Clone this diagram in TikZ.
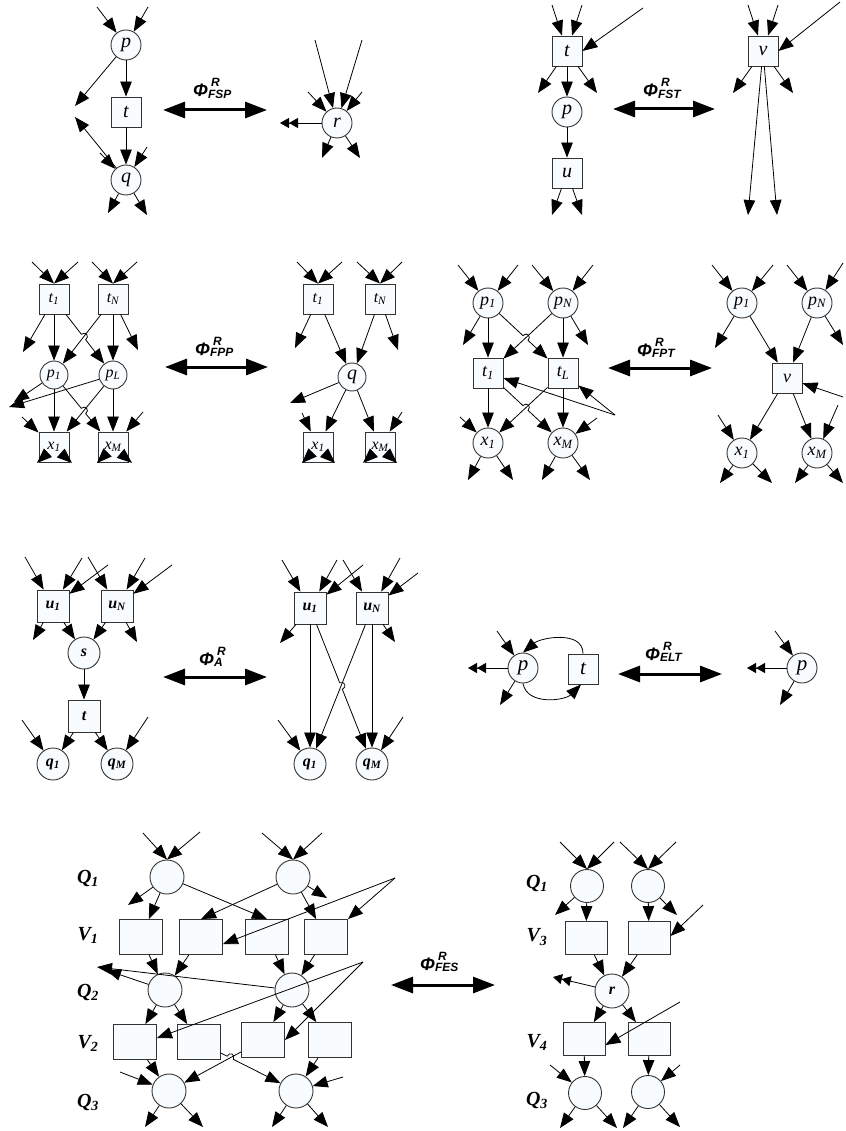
\documentclass[tikz,border=0pt]{standalone}
\usepackage{fontspec}
\setmainfont{Liberation Serif}
\setsansfont{Liberation Sans}
\usepackage{tikz}
\usetikzlibrary{arrows.meta, calc, shapes.geometric}
\definecolor{nfill}{RGB}{249,252,255}
\tikzstyle{place} = [circle, draw=black!80, line width=0.9pt, fill=nfill, minimum size=30pt, inner sep=0pt]
\tikzstyle{trans} = [rectangle, draw=black!80, line width=0.9pt, fill=nfill, minimum size=30pt, inner sep=0pt]
\tikzstyle{flow} = [line width=0.8pt, -{Triangle[length=15pt,width=11.5pt]}]
\tikzstyle{sink} = [line width=0.8pt, -{Triangle[length=9pt,width=10pt]Triangle[length=9pt,width=10pt]}]
\tikzstyle{rulearrow} = [line width=3pt, {Triangle[length=22pt,width=16pt]}-{Triangle[length=22pt,width=16pt]}]
\tikzstyle{rulelabel} = [anchor=base west, inner sep=0pt]
\tikzstyle{lbig} = [font=\fontsize{20pt}{20pt}\selectfont\itshape]
\tikzstyle{lmid} = [font=\fontsize{16pt}{16pt}\selectfont\itshape]
\tikzstyle{lfpt} = [font=\fontsize{18pt}{18pt}\selectfont\itshape]
\tikzstyle{lelt} = [font=\fontsize{21pt}{21pt}\selectfont\itshape]
\tikzstyle{lbold} = [font=\fontsize{16pt}{16pt}\selectfont\bfseries\itshape]
\tikzstyle{lfes} = [font=\fontsize{20pt}{20pt}\selectfont\bfseries\itshape]
\tikzstyle{fplace} = [place, minimum size=34pt]
\tikzstyle{fbox} = [trans, minimum width=43pt, minimum height=35pt]
% rule name: Phi with R above and the rule below
\newcommand{\phirule}[1]{{\sffamily\bfseries\itshape\fontsize{18pt}{18pt}\selectfont Φ\rlap{\hspace{3pt}\raisebox{10pt}{\fontsize{12pt}{12pt}\selectfont R}}\raisebox{-1.5pt}{\fontsize{12pt}{12pt}\selectfont #1}}}
% edge #1 -> #2 with a small hop where it crosses #3 -- #4
\newcommand{\hopedge}[4]{%
  \coordinate (hx) at (intersection of #1--#2 and #3--#4);
  \draw[flow] (#1) -- ($(hx)!3.5pt!(#1)$) to[bend left=90,looseness=2] ($(hx)!3.5pt!(#2)$) -- (#2);}

\begin{document}
\begin{tikzpicture}[x=1pt,y=1pt]
\useasboundingbox (0,0) rectangle (845,-1131);

%% ---------- FSP ----------
\node[place,lbig] (sp) at (126,-45) {p};
\node[trans,lbig] (st) at (126,-112) {t};
\node[place,lbig] (sq) at (126,-180) {q};
\coordinate (sp1) at (97,-7); \coordinate (sp2) at (148,-7);
\coordinate (sp3) at (75,-106); \coordinate (sp4) at (75,-117);
\coordinate (sp5) at (100,-153); \coordinate (sp6) at (147,-147);
\coordinate (sp7) at (108,-213); \coordinate (sp8) at (147,-215);
\draw[flow] (sp1) -- (sp); \draw[flow] (sp2) -- (sp);
\draw[flow] (sp) -- (st); \draw[flow] (st) -- (sq);
\draw[flow] (sp) -- (sp3); \draw[flow] (sq) -- (sp4);
\draw[flow] (sp5) -- (sq); \draw[flow] (sp6) -- (sq);
\draw[flow] (sq) -- (sp7); \draw[flow] (sq) -- (sp8);

\coordinate (ra1) at (163,-110); \coordinate (ra2) at (267,-110);
\draw[rulearrow] (ra1) -- (ra2);
\node[rulelabel] (rfsp) at (193,-97) {\phirule{FSP}};

\node[place,lbig] (sr) at (337,-123) {r};
\coordinate (sr1) at (315,-40); \coordinate (sr2) at (362,-40);
\coordinate (sr3) at (308,-92); \coordinate (sr4) at (362,-92);
\coordinate (sr5) at (280,-123);
\coordinate (sr6) at (322,-158); \coordinate (sr7) at (360,-158);
\draw[flow] (sr1) -- (sr); \draw[flow] (sr2) -- (sr);
\draw[flow] (sr3) -- (sr); \draw[flow] (sr4) -- (sr);
\draw[sink] (sr) -- (sr5);
\draw[flow] (sr) -- (sr6); \draw[flow] (sr) -- (sr7);

%% ---------- FST ----------
\node[trans,lbig] (ft) at (567,-51) {t};
\node[place,lbig] (fp) at (567,-112) {p};
\node[trans,lbig] (fu) at (567,-173) {u};
\coordinate (ft1) at (552,-5); \coordinate (ft2) at (582,-5);
\coordinate (ft3) at (643,-8);
\coordinate (ft4) at (538,-93); \coordinate (ft5) at (597,-93);
\coordinate (ft6) at (552,-215); \coordinate (ft7) at (582,-215);
\draw[flow] (ft1) -- (ft); \draw[flow] (ft2) -- (ft);
\draw[flow] (ft3) -- (ft.east);
\draw[flow] (ft) -- (ft4); \draw[flow] (ft) -- (fp); \draw[flow] (ft) -- (ft5);
\draw[flow] (fp) -- (fu);
\draw[flow] (fu) -- (ft6); \draw[flow] (fu) -- (ft7);

\coordinate (ra3) at (613,-109); \coordinate (ra4) at (715,-109);
\draw[rulearrow] (ra3) -- (ra4);
\node[rulelabel] (rfst) at (643,-97) {\phirule{FST}};

\node[trans,lbig] (fv) at (763,-51) {v};
\coordinate (fv1) at (748,-5); \coordinate (fv2) at (778,-5);
\coordinate (fv3) at (840,-2);
\coordinate (fv4) at (733,-93); \coordinate (fv5) at (793,-93);
\coordinate (fv6) at (748,-215); \coordinate (fv7) at (777,-215);
\draw[flow] (fv1) -- (fv); \draw[flow] (fv2) -- (fv);
\draw[flow] (fv3) -- (fv.east);
\draw[flow] (fv) -- (fv4); \draw[flow] (fv) -- (fv5);
\draw[flow] (fv) -- (fv6); \draw[flow] (fv) -- (fv7);

%% ---------- FPP ----------
\node[trans,lmid] (pt1) at (54,-299) {t\textsubscript{1}};
\node[trans,lmid] (ptn) at (113,-299) {t\textsubscript{N}};
\node[place,lmid,minimum size=28pt] (pp1) at (54,-375) {p\textsubscript{1}};
\node[place,lmid,minimum size=28pt] (ppl) at (113,-375) {p\textsubscript{L}};
\node[trans,lmid] (px1) at (54,-447) {x\textsubscript{1}};
\node[trans,lmid] (pxm) at (113,-447) {x\textsubscript{M}};
\coordinate (pa1) at (32,-262); \coordinate (pa2) at (78,-262);
\coordinate (pa3) at (92,-262); \coordinate (pa4) at (137,-262);
\coordinate (pa5) at (23,-352); \coordinate (pa6) at (138,-350);
\coordinate (pa7) at (14,-402); \coordinate (pa8) at (9,-407);
\coordinate (pa9) at (22,-417); \coordinate (pa10) at (143,-412);
\coordinate (pa11) at (37,-463); \coordinate (pa12) at (72,-463);
\coordinate (pa13) at (97,-463); \coordinate (pa14) at (132,-463);
\draw[flow] (pa1) -- (pt1.north); \draw[flow] (pa2) -- (pt1.north);
\draw[flow] (pa3) -- (ptn.north); \draw[flow] (pa4) -- (ptn.north);
\draw[flow] (pt1) -- (pa5); \draw[flow] (pt1) -- (pp1);
\hopedge{pt1}{ppl}{ptn}{pp1}
\draw[flow] (ptn) -- (pp1); \draw[flow] (ptn) -- (ppl); \draw[flow] (ptn) -- (pa6);
\draw[flow] (pp1) -- (pa7); \draw[flow] (pp1) -- (px1);
\hopedge{pp1}{pxm}{ppl}{px1}
\draw[flow] (ppl) -- (pa8); \draw[flow] (ppl) -- (px1); \draw[flow] (ppl) -- (pxm);
\draw[flow] (pa9) -- (px1); \draw[flow] (pa10) -- (pxm);
\draw[flow] (px1) -- (pa11); \draw[flow] (px1) -- (pa12);
\draw[flow] (pxm) -- (pa13); \draw[flow] (pxm) -- (pa14);

\coordinate (ra5) at (165,-367); \coordinate (ra6) at (268,-367);
\draw[rulearrow] (ra5) -- (ra6);
\node[rulelabel] (rfpp) at (195,-355) {\phirule{FPP}};

\node[trans,lmid] (qt1) at (318,-299) {t\textsubscript{1}};
\node[trans,lmid] (qtn) at (380,-299) {t\textsubscript{N}};
\node[place,lbig,minimum size=28pt] (qq) at (352,-377) {q};
\node[trans,lmid] (qx1) at (318,-447) {x\textsubscript{1}};
\node[trans,lmid] (qxm) at (380,-447) {x\textsubscript{M}};
\coordinate (qa1) at (297,-262); \coordinate (qa2) at (342,-262);
\coordinate (qa3) at (357,-262); \coordinate (qa4) at (402,-262);
\coordinate (qa5) at (295,-348); \coordinate (qa6) at (398,-350);
\coordinate (qa7) at (290,-403);
\coordinate (qa8) at (302,-413); \coordinate (qa9) at (402,-412);
\coordinate (qa10) at (302,-463); \coordinate (qa11) at (335,-463);
\coordinate (qa12) at (363,-463); \coordinate (qa13) at (397,-463);
\draw[flow] (qa1) -- (qt1.north); \draw[flow] (qa2) -- (qt1.north);
\draw[flow] (qa3) -- (qtn.north); \draw[flow] (qa4) -- (qtn.north);
\draw[flow] (qt1) -- (qa5); \draw[flow] (qt1) -- (qq);
\draw[flow] (qtn) -- (qq); \draw[flow] (qtn) -- (qa6);
\draw[flow] (qq) -- (qa7); \draw[flow] (qq) -- (qx1); \draw[flow] (qq) -- (qxm);
\draw[flow] (qa8) -- (qx1); \draw[flow] (qa9) -- (qxm);
\draw[flow] (qx1) -- (qa10); \draw[flow] (qx1) -- (qa11);
\draw[flow] (qxm) -- (qa12); \draw[flow] (qxm) -- (qa13);

%% ---------- FPT ----------
\node[place,lfpt] (tp1) at (488,-303) {p\textsubscript{1}};
\node[place,lfpt] (tpn) at (563,-303) {p\textsubscript{N}};
\node[trans,lfpt] (tt1) at (488,-373) {t\textsubscript{1}};
\node[trans,lfpt] (ttl) at (563,-373) {t\textsubscript{L}};
\node[place,lfpt] (tx1) at (488,-443) {x\textsubscript{1}};
\node[place,lfpt] (txm) at (563,-443) {x\textsubscript{M}};
\coordinate (ta1) at (458,-265); \coordinate (ta2) at (518,-265);
\coordinate (ta3) at (532,-265); \coordinate (ta4) at (593,-265);
\coordinate (ta5) at (463,-345); \coordinate (ta6) at (588,-345);
\coordinate (ta7) at (615,-415);
\coordinate (ta8) at (460,-417); \coordinate (ta9) at (597,-418);
\coordinate (ta10) at (468,-480); \coordinate (ta11) at (513,-480);
\coordinate (ta12) at (542,-480); \coordinate (ta13) at (590,-480);
\draw[flow] (ta1) -- (tp1); \draw[flow] (ta2) -- (tp1);
\draw[flow] (ta3) -- (tpn); \draw[flow] (ta4) -- (tpn);
\draw[flow] (tp1) -- (ta5); \draw[flow] (tp1) -- (tt1);
\hopedge{tp1}{ttl}{tpn}{tt1}
\draw[flow] (tpn) -- (tt1); \draw[flow] (tpn) -- (ttl); \draw[flow] (tpn) -- (ta6);
\draw[flow] (tt1) -- (tx1);
\hopedge{tt1}{txm}{ttl}{tx1}
\draw[flow] (ttl) -- (tx1); \draw[flow] (ttl) -- (txm);
\draw[flow] (ta7) -- (tt1); \draw[flow] (ta7) -- (ttl);
\draw[flow] (ta8) -- (tx1); \draw[flow] (ta9) -- (txm);
\draw[flow] (tx1) -- (ta10); \draw[flow] (tx1) -- (ta11);
\draw[flow] (txm) -- (ta12); \draw[flow] (txm) -- (ta13);

\coordinate (ra7) at (608,-368); \coordinate (ra8) at (712,-368);
\draw[rulearrow] (ra7) -- (ra8);
\node[rulelabel] (rfpt) at (637,-356) {\phirule{FPT}};

\node[place,lfpt] (vp1) at (742,-303) {p\textsubscript{1}};
\node[place,lfpt] (vpn) at (817,-303) {p\textsubscript{N}};
\node[trans,lfpt] (vv) at (787,-378) {v};
\node[place,lfpt] (vx1) at (742,-453) {x\textsubscript{1}};
\node[place,lfpt] (vxm) at (817,-453) {x\textsubscript{M}};
\coordinate (va1) at (712,-265); \coordinate (va2) at (773,-265);
\coordinate (va3) at (787,-265); \coordinate (va4) at (843,-263);
\coordinate (va5) at (715,-348); \coordinate (va6) at (843,-345);
\coordinate (va7) at (843,-397);
\coordinate (va8) at (718,-415); \coordinate (va9) at (838,-405);
\coordinate (va10) at (720,-483); \coordinate (va11) at (772,-483);
\coordinate (va12) at (795,-483); \coordinate (va13) at (843,-483);
\draw[flow] (va1) -- (vp1); \draw[flow] (va2) -- (vp1);
\draw[flow] (va3) -- (vpn); \draw[flow] (va4) -- (vpn);
\draw[flow] (vp1) -- (va5); \draw[flow] (vp1) -- (vv);
\draw[flow] (vpn) -- (vv); \draw[flow] (vpn) -- (va6);
\draw[flow] (va7) -- (vv);
\draw[flow] (vv) -- (vx1); \draw[flow] (vv) -- (vxm);
\draw[flow] (va8) -- (vx1); \draw[flow] (va9) -- (vxm);
\draw[flow] (vx1) -- (va10); \draw[flow] (vx1) -- (va11);
\draw[flow] (vxm) -- (va12); \draw[flow] (vxm) -- (va13);

%% ---------- A ----------
\node[trans,lbold,minimum size=32pt] (au1) at (53,-606) {u\textsubscript{1}};
\node[trans,lbold,minimum size=32pt] (aun) at (117,-606) {u\textsubscript{N}};
\node[place,lbold,minimum size=32pt] (as) at (84,-653) {s};
\node[trans,lbold,minimum size=32pt] (at) at (84,-716) {t};
\node[place,lbold,minimum size=32pt] (aq1) at (53,-764) {q\textsubscript{1}};
\node[place,lbold,minimum size=32pt] (aqm) at (117,-764) {q\textsubscript{M}};
\coordinate (aa1) at (25,-557); \coordinate (aa2) at (82,-558); \coordinate (aa3) at (108,-565);
\coordinate (aa4) at (88,-557); \coordinate (aa5) at (145,-558); \coordinate (aa6) at (172,-565);
\coordinate (aa7) at (33,-640); \coordinate (aa8) at (137,-642);
\coordinate (aa9) at (22,-720); \coordinate (aa10) at (148,-717);
\draw[flow] (aa1) -- (au1); \draw[flow] (aa2) -- (au1); \draw[flow] (aa3) -- (au1);
\draw[flow] (aa4) -- (aun); \draw[flow] (aa5) -- (aun); \draw[flow] (aa6) -- (aun);
\draw[flow] (au1) -- (aa7); \draw[flow] (au1) -- (as);
\draw[flow] (aun) -- (as); \draw[flow] (aun) -- (aa8);
\draw[flow] (as) -- (at);
\draw[flow] (at) -- (aq1); \draw[flow] (at) -- (aqm);
\draw[flow] (aa9) -- (aq1); \draw[flow] (aa10) -- (aqm);

\coordinate (ra9) at (163,-677); \coordinate (ra10) at (267,-677);
\draw[rulearrow] (ra9) -- (ra10);
\node[rulelabel] (ra) at (199,-665) {\phirule{A}};

\node[trans,lbold,minimum size=32pt] (bu1) at (310,-608) {u\textsubscript{1}};
\node[trans,lbold,minimum size=32pt] (bun) at (372,-608) {u\textsubscript{N}};
\node[place,lbold,minimum size=32pt] (bq1) at (310,-764) {q\textsubscript{1}};
\node[place,lbold,minimum size=32pt] (bqm) at (372,-764) {q\textsubscript{M}};
\coordinate (ba1) at (282,-560); \coordinate (ba2) at (337,-560); \coordinate (ba3) at (363,-565);
\coordinate (ba4) at (343,-560); \coordinate (ba5) at (400,-558); \coordinate (ba6) at (418,-573);
\coordinate (ba7) at (280,-643); \coordinate (ba8) at (395,-642);
\coordinate (ba9) at (278,-720); \coordinate (ba10) at (403,-717);
\draw[flow] (ba1) -- (bu1); \draw[flow] (ba2) -- (bu1); \draw[flow] (ba3) -- (bu1);
\draw[flow] (ba4) -- (bun); \draw[flow] (ba5) -- (bun); \draw[flow] (ba6) -- (bun);
\draw[flow] (bu1) -- (ba7); \draw[flow] (bu1) -- (bq1);
\hopedge{bu1}{bqm}{bun}{bq1}
\draw[flow] (bun) -- (bq1); \draw[flow] (bun) -- (bqm); \draw[flow] (bun) -- (ba8);
\draw[flow] (ba9) -- (bq1); \draw[flow] (ba10) -- (bqm);

%% ---------- ELT ----------
\node[place,lelt] (ep) at (523,-668) {p};
\node[trans,lelt] (et) at (583,-669) {t};
\coordinate (ea1) at (468,-668); \coordinate (ea2) at (497,-631); \coordinate (ea3) at (500,-705);
\draw[sink] (ep) -- (ea1);
\draw[flow] (ea2) -- (ep); \draw[flow] (ep) -- (ea3);
\draw[flow] (et.north) to[out=90,in=40] (ep.north);
\draw[flow] (ep.south) to[out=-80,in=-135] ([xshift=-2pt]et.south);

\coordinate (ra11) at (618,-674); \coordinate (ra12) at (722,-674);
\draw[rulearrow] (ra11) -- (ra12);
\node[rulelabel] (relt) at (645,-660) {\phirule{ELT}};

\node[place,lelt] (eq) at (802,-668) {p};
\coordinate (ea4) at (747,-668); \coordinate (ea5) at (775,-631); \coordinate (ea6) at (780,-705);
\draw[sink] (eq) -- (ea4);
\draw[flow] (ea5) -- (eq); \draw[flow] (eq) -- (ea6);

%% ---------- FES ----------
\node[lfes] (gq1) at (88,-878) {Q\textsubscript{1}};
\node[lfes] (gv1) at (88,-935) {V\textsubscript{1}};
\node[lfes] (gq2) at (88,-992) {Q\textsubscript{2}};
\node[lfes] (gv2) at (88,-1043) {V\textsubscript{2}};
\node[lfes] (gq3) at (88,-1102) {Q\textsubscript{3}};
\node[fplace] (ga1) at (167,-877) {};
\node[fplace] (ga2) at (293,-877) {};
\node[fbox] (gb1) at (141,-937) {};
\node[fbox] (gb2) at (201,-937) {};
\node[fbox] (gb3) at (267,-937) {};
\node[fbox] (gb4) at (326,-937) {};
\node[fplace] (gc1) at (165,-990) {};
\node[fplace] (gc2) at (292,-990) {};
\node[fbox] (gd1) at (135,-1042) {};
\node[fbox] (gd2) at (199,-1042) {};
\node[fbox] (gd3) at (263,-1040) {};
\node[fbox] (gd4) at (330,-1040) {};
\node[fplace] (ge1) at (169,-1091) {};
\node[fplace] (ge2) at (296,-1091) {};
\coordinate (g1) at (143,-833); \coordinate (g2) at (200,-832);
\coordinate (g3) at (262,-833); \coordinate (g4) at (322,-833);
\coordinate (g5) at (128,-905); \coordinate (g6) at (327,-898);
\coordinate (g7) at (395,-878);
\coordinate (g8) at (106,-970); \coordinate (g9) at (97,-967);
\coordinate (g10) at (363,-962);
\coordinate (g11) at (120,-1072); \coordinate (g12) at (343,-1077);
\coordinate (g13) at (145,-1127); \coordinate (g14) at (203,-1127);
\coordinate (g15) at (272,-1127); \coordinate (g16) at (328,-1127);
\draw[flow] (g1) -- (ga1.north); \draw[flow] (g2) -- (ga1.north);
\draw[flow] (g3) -- (ga2.north); \draw[flow] (g4) -- (ga2.north);
\draw[flow] (ga1) -- (g5); \draw[flow] (ga1) -- (gb1); \draw[flow] (ga1) -- (gb3.north);
\draw[flow] (ga2) -- (gb2.north); \draw[flow] (ga2) -- (gb4); \draw[flow] (ga2) -- (g6);
\draw[flow] (g7) -- ([yshift=-7pt]gb2.east); \draw[flow] (g7) -- (gb4.north east);
\draw[flow] (gb1) -- (gc1); \draw[flow] (gb2) -- (gc1);
\draw[flow] (gb3) -- (gc2); \draw[flow] (gb4) -- (gc2);
\draw[flow] (gc1) -- (g8); \draw[flow] (gc2) -- (g9);
\draw[flow] (gc1) -- (gd1); \draw[flow] (gc1) -- (gd2);
\draw[flow] (gc2) -- (gd3); \draw[flow] (gc2) -- (gd4);
\draw[flow] (g10) -- ([yshift=4pt]gd1.east); \draw[flow] (g10) -- (gd3.east);
\draw[flow] (gd1) -- (ge1);
\hopedge{gd2}{ge2}{gd3}{ge1}
\draw[flow] (gd3) -- (ge1); \draw[flow] (gd4) -- (ge2);
\draw[flow] (g11) -- (ge1); \draw[flow] (g12) -- (ge2);
\draw[flow] (ge1) -- (g13); \draw[flow] (ge1) -- (g14);
\draw[flow] (ge2) -- (g15); \draw[flow] (ge2) -- (g16);

\coordinate (ra13) at (391,-985); \coordinate (ra14) at (495,-985);
\draw[rulearrow] (ra13) -- (ra14);
\node[rulelabel] (rfes) at (420,-970) {\phirule{FES}};

\node[lfes] (hq1) at (537,-883) {Q\textsubscript{1}};
\node[lfes] (hv3) at (537,-937) {V\textsubscript{3}};
\node[lfes] (hv4) at (537,-1042) {V\textsubscript{4}};
\node[lfes] (hq3) at (537,-1100) {Q\textsubscript{3}};
\node[fplace,minimum size=33pt] (ha1) at (587,-886) {};
\node[fplace,minimum size=33pt] (ha2) at (648,-886) {};
\node[fbox,minimum width=42pt,minimum height=33pt] (hb1) at (586,-938) {};
\node[fbox,minimum width=42pt,minimum height=33pt] (hb2) at (649,-938) {};
\node[fplace,lbold] (hr) at (612,-991) {r};
\node[fbox,minimum width=42pt,minimum height=33pt] (hd1) at (584,-1039) {};
\node[fbox,minimum width=42pt,minimum height=33pt] (hd2) at (649,-1039) {};
\node[fplace,minimum size=33pt] (he1) at (585,-1093) {};
\node[fplace,minimum size=33pt] (he2) at (648,-1092) {};
\coordinate (h1) at (560,-842); \coordinate (h2) at (614,-842);
\coordinate (h3) at (620,-842); \coordinate (h4) at (676,-842);
\coordinate (h5) at (555,-915); \coordinate (h6) at (677,-915);
\coordinate (h7) at (703,-905); \coordinate (h8) at (553,-977);
\coordinate (h9) at (680,-1002);
\coordinate (h10) at (550,-1065); \coordinate (h11) at (680,-1065);
\coordinate (h12) at (560,-1128); \coordinate (h13) at (617,-1128);
\coordinate (h14) at (623,-1128); \coordinate (h15) at (680,-1127);
\draw[flow] (h1) -- (ha1.north); \draw[flow] (h2) -- (ha1.north);
\draw[flow] (h3) -- (ha2.north); \draw[flow] (h4) -- (ha2.north);
\draw[flow] (ha1) -- (h5); \draw[flow] (ha1) -- (hb1);
\draw[flow] (ha2) -- (hb2); \draw[flow] (ha2) -- (h6);
\draw[flow] (h7) -- ([yshift=2pt]hb2.east);
\draw[flow] (hb1) -- (hr); \draw[flow] (hb2) -- (hr);
\draw[sink] (hr) -- (h8);
\draw[flow] (hr) -- (hd1); \draw[flow] (hr) -- (hd2);
\draw[flow] (h9) -- ([yshift=-6pt]hd1.east);
\draw[flow] (hd1) -- (he1); \draw[flow] (hd2) -- (he2);
\draw[flow] (h10) -- (he1); \draw[flow] (h11) -- (he2);
\draw[flow] (he1) -- (h12); \draw[flow] (he1) -- (h13);
\draw[flow] (he2) -- (h14); \draw[flow] (he2) -- (h15);
\end{tikzpicture}
\end{document}
